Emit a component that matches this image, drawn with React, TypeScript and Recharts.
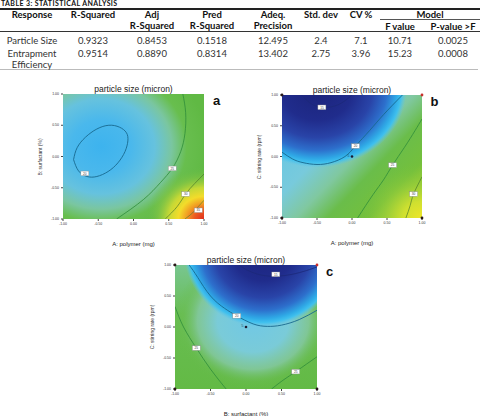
import React from "react";
import { LineChart, Line, XAxis, YAxis, ReferenceArea, ReferenceDot } from "recharts";

type Pt = { x: number; y: number };

// ---- table data ----
const tableTitle = "TABLE 3: STATISTICAL ANALYSIS";
const headerLine1 = ["Response", "R-Squared", "Adj", "Pred", "Adeq.", "Std. dev", "CV %"];
const headerLine2 = ["", "", "R-Squared", "R-Squared", "Precision", "", ""];
const modelHeader = "Model";
const modelSubHeaders = ["F value", "P-value >F"];
const responses = [["Particle Size"], ["Entrapment", "Efficiency"]];
const rSquared = ["0.9323", "0.9514"];
const adjRSquared = ["0.8453", "0.8890"];
const predRSquared = ["0.1518", "0.8314"];
const adeqPrecision = ["12.495", "13.402"];
const stdDev = ["2.4", "2.75"];
const cvPercent = ["7.1", "3.96"];
const fValue = ["10.71", "15.23"];
const pValue = ["0.0025", "0.0008"];

// ---- contour plot data (coded factor levels) ----
const axisTicks = [-1, -0.5, 0, 0.5, 1];
const plotTitle = "particle size (micron)";

const aEllipse: Pt[] = [
  { x: -0.85, y: -0.05 }, { x: -0.8, y: 0.14 }, { x: -0.68, y: 0.31 }, { x: -0.52, y: 0.44 },
  { x: -0.35, y: 0.5 }, { x: -0.2, y: 0.47 }, { x: -0.1, y: 0.38 }, { x: -0.08, y: 0.25 },
  { x: -0.12, y: 0.08 }, { x: -0.22, y: -0.1 }, { x: -0.36, y: -0.24 }, { x: -0.52, y: -0.32 },
  { x: -0.66, y: -0.32 }, { x: -0.78, y: -0.23 }, { x: -0.85, y: -0.05 },
];
const aArc: Pt[] = [
  { x: -0.24, y: -1 }, { x: 0.14, y: -0.69 }, { x: 0.38, y: -0.42 }, { x: 0.55, y: -0.19 },
  { x: 0.67, y: 0.08 }, { x: 0.73, y: 0.37 }, { x: 0.74, y: 0.7 }, { x: 0.7, y: 1 },
];
const aOuter: Pt[] = [
  { x: 0.45, y: -1 }, { x: 0.62, y: -0.8 }, { x: 0.74, y: -0.6 }, { x: 0.87, y: -0.43 }, { x: 1, y: -0.28 },
];
const aCorner: Pt[] = [
  { x: 0.73, y: -1 }, { x: 0.84, y: -0.9 }, { x: 0.92, y: -0.8 }, { x: 1, y: -0.7 },
];
const aLabels = [
  { x: -0.69, y: -0.27, t: "20" }, { x: 0.55, y: -0.19, t: "25" },
  { x: 0.74, y: -0.6, t: "30" }, { x: 0.92, y: -0.86, t: "35" },
];

const bTop: Pt[] = [
  { x: -0.72, y: 1 }, { x: -0.6, y: 0.87 }, { x: -0.43, y: 0.8 }, { x: -0.2, y: 0.84 }, { x: 0, y: 1 },
];
const bMid: Pt[] = [
  { x: -1, y: 0.07 }, { x: -0.85, y: -0.04 }, { x: -0.7, y: -0.1 }, { x: -0.5, y: -0.13 },
  { x: -0.3, y: -0.1 }, { x: -0.1, y: 0.0 }, { x: 0.05, y: 0.17 }, { x: 0.25, y: 0.42 },
  { x: 0.45, y: 0.68 }, { x: 0.72, y: 1 },
];
const bGreen: Pt[] = [
  { x: 0.08, y: -1 }, { x: 0.3, y: -0.62 }, { x: 0.45, y: -0.38 }, { x: 0.58, y: -0.14 },
  { x: 0.75, y: 0.15 }, { x: 0.9, y: 0.42 }, { x: 1, y: 0.61 },
];
const bCorner: Pt[] = [
  { x: 0.77, y: -1 }, { x: 0.83, y: -0.8 }, { x: 0.88, y: -0.61 }, { x: 1, y: -0.33 },
];
const bLabels = [
  { x: -0.43, y: 0.8, t: "15" }, { x: 0.05, y: 0.17, t: "20" },
  { x: 0.58, y: -0.14, t: "25" }, { x: 0.88, y: -0.61, t: "30" },
];

const cTop: Pt[] = [
  { x: -0.1, y: 1 }, { x: 0.05, y: 0.9 }, { x: 0.25, y: 0.83 }, { x: 0.45, y: 0.82 },
  { x: 0.65, y: 0.85 }, { x: 0.85, y: 0.91 }, { x: 1, y: 0.97 },
];
const cMid: Pt[] = [
  { x: -0.8, y: 1 }, { x: -0.68, y: 0.8 }, { x: -0.5, y: 0.5 }, { x: -0.3, y: 0.3 },
  { x: -0.13, y: 0.18 }, { x: 0.1, y: 0.05 }, { x: 0.3, y: 0.01 }, { x: 0.5, y: 0.03 },
  { x: 0.75, y: 0.12 }, { x: 1, y: 0.27 },
];
const cLeft: Pt[] = [
  { x: -1, y: 0.33 }, { x: -0.88, y: 0.0 }, { x: -0.7, y: -0.34 }, { x: -0.5, y: -0.68 }, { x: -0.28, y: -1 },
];
const cRight: Pt[] = [
  { x: 0.36, y: -1 }, { x: 0.52, y: -0.86 }, { x: 0.7, y: -0.72 }, { x: 0.85, y: -0.6 }, { x: 1, y: -0.48 },
];
const cLabels = [
  { x: 0.42, y: 0.85, t: "15" }, { x: -0.13, y: 0.18, t: "20" },
  { x: -0.7, y: -0.34, t: "25" }, { x: 0.7, y: -0.72, t: "25" },
];

const designCorners: Pt[] = [
  { x: -1, y: -1 }, { x: 1, y: -1 }, { x: -1, y: 1 }, { x: 1, y: 1 },
];
const centerPoint: Pt = { x: 0, y: 0 };
const centerReplicates = "5";

const fmt = (v: number) => v.toFixed(2);
const sans = "'Liberation Sans', Arial, sans-serif";

type Contour = { data: Pt[]; color: string; width: number };

interface PanelProps {
  px: number;
  py: number;
  pw: number;
  ph: number;
  xTitle: string;
  yTitle: string;
  letter: string;
  defs: React.ReactNode;
  fills: string[];
  contours: Contour[];
  labels: { x: number; y: number; t: string }[];
  design: boolean;
}

function Panel(p: PanelProps) {
  const ml = 40, mt = 10, mr = 10, xh = 36;
  return (
    <>
      <div
        style={{
          position: "absolute",
          left: p.px + p.pw / 2,
          top: p.py - 5,
          transform: "translate(-50%, -50%)",
          fontFamily: sans,
          fontSize: 8.5,
          color: "#222",
          whiteSpace: "nowrap",
        }}
      >
        {plotTitle}
      </div>
      <div
        style={{
          position: "absolute",
          left: p.px + p.pw + 12.5,
          top: p.py + 6,
          transform: "translate(-50%, -50%)",
          fontFamily: sans,
          fontWeight: 700,
          fontSize: 13,
          color: "#111",
        }}
      >
        {p.letter}
      </div>
      <div
        style={{
          position: "absolute",
          left: p.px - 23,
          top: p.py + p.ph / 2,
          transform: "translate(-50%, -50%) rotate(-90deg)",
          fontFamily: sans,
          fontSize: 5,
          color: "#333",
          whiteSpace: "nowrap",
        }}
      >
        {p.yTitle}
      </div>
      <div style={{ position: "absolute", left: p.px - ml, top: p.py - mt, fontFamily: sans }}>
        <LineChart
          width={p.pw + ml + mr}
          height={p.ph + mt + xh}
          margin={{ top: mt, right: mr, left: 0, bottom: 0 }}
        >
          <defs>{p.defs}</defs>
          <XAxis
            type="number"
            dataKey="x"
            domain={[-1, 1]}
            ticks={axisTicks}
            tickFormatter={fmt}
            allowDataOverflow
            height={xh}
            axisLine={false}
            tickSize={2}
            tickMargin={2}
            stroke="#444"
            tick={{ fontSize: 3.5, fill: "#333", fontFamily: sans }}
            label={{
              value: p.xTitle,
              position: "insideBottom",
              offset: 9,
              fontSize: 6,
              fill: "#222",
              fontFamily: sans,
            }}
          />
          <YAxis
            type="number"
            dataKey="y"
            domain={[-1, 1]}
            ticks={axisTicks}
            tickFormatter={fmt}
            allowDataOverflow
            width={ml}
            axisLine={false}
            tickSize={2}
            tickMargin={2}
            stroke="#444"
            tick={{ fontSize: 3.5, fill: "#333", fontFamily: sans }}
          />
          {p.fills.map((f) => (
            <ReferenceArea
              key={f}
              x1={-1}
              x2={1}
              y1={-1}
              y2={1}
              fill={`url(#${f})`}
              fillOpacity={1}
              stroke="none"
            />
          ))}
          {p.contours.map((c, i) => (
            <Line
              key={i}
              data={c.data}
              dataKey="y"
              type="natural"
              stroke={c.color}
              strokeWidth={c.width}
              dot={false}
              activeDot={false}
              isAnimationActive={false}
            />
          ))}
          {p.labels.map((l, i) => (
            <ReferenceDot
              key={"l" + i}
              x={l.x}
              y={l.y}
              shape={(s: any) => (
                <g>
                  <rect x={s.cx - 4} y={s.cy - 2.3} width={8} height={4.6} fill="#fff" stroke="#888" strokeWidth={0.4} />
                  <text x={s.cx} y={s.cy + 1.2} textAnchor="middle" fontSize={3.2} fill="#444" fontFamily={sans}>
                    {l.t}
                  </text>
                </g>
              )}
            />
          ))}
          {p.design &&
            designCorners.map((d, i) => (
              <ReferenceDot
                key={"d" + i}
                x={d.x}
                y={d.y}
                r={1.4}
                fill={d.x === 1 && d.y === 1 ? "#c8302c" : "#2a1a1a"}
                stroke="none"
                ifOverflow="visible"
              />
            ))}
          {p.design && (
            <ReferenceDot
              x={centerPoint.x}
              y={centerPoint.y}
              shape={(s: any) => (
                <g>
                  <circle cx={s.cx} cy={s.cy} r={1.3} fill="#1a1a30" />
                  <text x={s.cx - 2.5} y={s.cy} textAnchor="end" fontSize={4} fill="#1f5c7a" fontFamily={sans}>
                    {centerReplicates}
                  </text>
                </g>
              )}
            />
          )}
        </LineChart>
      </div>
    </>
  );
}

const navyStops = (
  <>
    <stop offset="0" stopColor="#1b237a" />
    <stop offset="0.4" stopColor="#202c8c" />
    <stop offset="0.62" stopColor="#2944a8" />
    <stop offset="0.78" stopColor="#2d6fcc" />
    <stop offset="0.89" stopColor="#2fa9e6" />
    <stop offset="0.94" stopColor="#3fc0ee" />
    <stop offset="1" stopColor="#5cc4ea" stopOpacity={0} />
  </>
);

const aDefs = (
  <>
    <radialGradient id="aBlue" cx="0.27" cy="0.42" r="0.76">
      <stop offset="0" stopColor="#3db3ee" />
      <stop offset="0.28" stopColor="#4ab8ec" />
      <stop offset="0.5" stopColor="#66c2de" />
      <stop offset="0.66" stopColor="#7ac6a0" />
      <stop offset="0.8" stopColor="#68be4e" />
      <stop offset="1" stopColor="#60b944" />
    </radialGradient>
    <radialGradient id="aHot" cx="1" cy="1" r="0.55">
      <stop offset="0" stopColor="#de2f1e" />
      <stop offset="0.12" stopColor="#ec5820" />
      <stop offset="0.22" stopColor="#f19a22" />
      <stop offset="0.33" stopColor="#f3dc2a" />
      <stop offset="0.46" stopColor="#c4d836" />
      <stop offset="0.6" stopColor="#8cc840" stopOpacity={0.5} />
      <stop offset="0.75" stopColor="#66bb45" stopOpacity={0} />
    </radialGradient>
  </>
);

const bDefs = (
  <>
    <linearGradient id="bBase" x1="0" y1="0" x2="1" y2="0.85">
      <stop offset="0" stopColor="#5cc4ea" />
      <stop offset="0.4" stopColor="#78cadc" />
      <stop offset="0.55" stopColor="#80c8a0" />
      <stop offset="0.68" stopColor="#6abd4a" />
      <stop offset="0.85" stopColor="#74c03c" />
      <stop offset="1" stopColor="#b0d42e" />
    </linearGradient>
    <radialGradient id="bHot" cx="1" cy="1" r="0.45">
      <stop offset="0" stopColor="#eee629" />
      <stop offset="0.3" stopColor="#cfe030" />
      <stop offset="0.6" stopColor="#9ccf3a" stopOpacity={0.6} />
      <stop offset="1" stopColor="#74c03c" stopOpacity={0} />
    </radialGradient>
    <radialGradient id="bNavy" cx="0.25" cy="-0.05" r="0.64">
      {navyStops}
    </radialGradient>
  </>
);

const cDefs = (
  <>
    <linearGradient id="cBase" x1="0" y1="0" x2="0" y2="1">
      <stop offset="0" stopColor="#78c690" />
      <stop offset="0.4" stopColor="#68bd52" />
      <stop offset="1" stopColor="#63ba45" />
    </linearGradient>
    <radialGradient id="cLight" cx="0.55" cy="0.45" r="0.56">
      <stop offset="0" stopColor="#70c8e6" />
      <stop offset="0.45" stopColor="#7acbd8" />
      <stop offset="0.7" stopColor="#86c9a8" stopOpacity={0.8} />
      <stop offset="0.88" stopColor="#6cbe55" stopOpacity={0.3} />
      <stop offset="1" stopColor="#66bb45" stopOpacity={0} />
    </radialGradient>
    <radialGradient
      id="cNavy"
      cx="0.62"
      cy="-0.12"
      r="0.62"
      gradientTransform="translate(0.62 -0.12) scale(0.9 1) translate(-0.62 0.12)"
    >
      {navyStops}
    </radialGradient>
  </>
);

const tealLine = "#17698f";
const navyLine = "#1c2878";
const greenLine = "#2f8d3a";
const oliveLine = "#4c7d2a";

export default function App() {
  const font = "Lato, 'Open Sans', sans-serif";
  const cols = [32, 93, 152, 212, 273, 321, 361, 400, 453];
  const cell = (x: number, y: number, t: string, bold = false, key?: string) => (
    <div
      key={key ?? `${x}-${y}-${t}`}
      style={{
        position: "absolute",
        left: x,
        top: y,
        transform: "translate(-50%, -50%)",
        whiteSpace: "nowrap",
        fontFamily: font,
        fontSize: 9.5,
        fontWeight: bold ? 700 : 400,
        color: bold ? "#111" : "#333",
      }}
    >
      {t}
    </div>
  );
  const dataCols = [rSquared, adjRSquared, predRSquared, adeqPrecision, stdDev, cvPercent, fValue, pValue];
  const rowY = [40, 53];

  return (
    <div
      style={{
        position: "absolute",
        left: 0,
        top: 0,
        width: 486,
        height: 416,
        overflow: "hidden",
        background: "#fff",
      }}
    >
      {/* table */}
      <div
        style={{
          position: "absolute",
          left: 1,
          top: 0,
          lineHeight: "7px",
          fontFamily: font,
          fontWeight: 700,
          fontSize: 7,
          letterSpacing: 0.4,
          color: "#111",
          whiteSpace: "nowrap",
        }}
      >
        {tableTitle}
      </div>
      <div style={{ position: "absolute", left: 0, top: 8, width: 480, height: 1.5, background: "#222" }} />
      <div style={{ position: "absolute", left: 380, top: 19, width: 100, height: 0.8, background: "#555" }} />
      <div style={{ position: "absolute", left: 0, top: 31, width: 480, height: 1, background: "#333" }} />
      <div style={{ position: "absolute", left: 0, top: 69, width: 478, height: 1.2, background: "#bbb" }} />
      {headerLine1.map((t, i) => cell(cols[i], 14, t, true, "h1" + i))}
      {headerLine2.map((t, i) => (t ? cell(cols[i], 25, t, true, "h2" + i) : null))}
      {cell(430, 14, modelHeader, true)}
      {modelSubHeaders.map((t, i) => cell(cols[7 + i], 26, t, true, "ms" + i))}
      {responses.map((lines, r) =>
        lines.map((t, k) => cell(cols[0], rowY[r] + k * 10.5, t, false, `r${r}${k}`))
      )}
      {dataCols.map((col, c) => col.map((v, r) => cell(cols[c + 1], rowY[r], v, false, `d${c}${r}`)))}

      <Panel
        px={63}
        py={94}
        pw={141}
        ph={125}
        xTitle="A: polymer (mg)"
        yTitle="B: surfactant (%)"
        letter="a"
        defs={aDefs}
        fills={["aBlue", "aHot"]}
        contours={[
          { data: aEllipse, color: tealLine, width: 0.9 },
          { data: aArc, color: greenLine, width: 0.8 },
          { data: aOuter, color: oliveLine, width: 0.7 },
          { data: aCorner, color: oliveLine, width: 0.6 },
        ]}
        labels={aLabels}
        design={false}
      />
      <Panel
        px={282}
        py={95}
        pw={140}
        ph={123}
        xTitle="A: polymer (mg)"
        yTitle="C: stirring rate (rpm)"
        letter="b"
        defs={bDefs}
        fills={["bBase", "bHot", "bNavy"]}
        contours={[
          { data: bTop, color: navyLine, width: 0.8 },
          { data: bMid, color: tealLine, width: 0.9 },
          { data: bGreen, color: greenLine, width: 0.8 },
          { data: bCorner, color: oliveLine, width: 0.7 },
        ]}
        labels={bLabels}
        design={true}
      />
      <Panel
        px={175}
        py={265}
        pw={142}
        ph={124}
        xTitle="B: surfactant (%)"
        yTitle="C: stirring rate (rpm)"
        letter="c"
        defs={cDefs}
        fills={["cBase", "cLight", "cNavy"]}
        contours={[
          { data: cTop, color: navyLine, width: 0.8 },
          { data: cMid, color: tealLine, width: 0.9 },
          { data: cLeft, color: greenLine, width: 0.8 },
          { data: cRight, color: greenLine, width: 0.8 },
        ]}
        labels={cLabels}
        design={true}
      />
    </div>
  );
}
